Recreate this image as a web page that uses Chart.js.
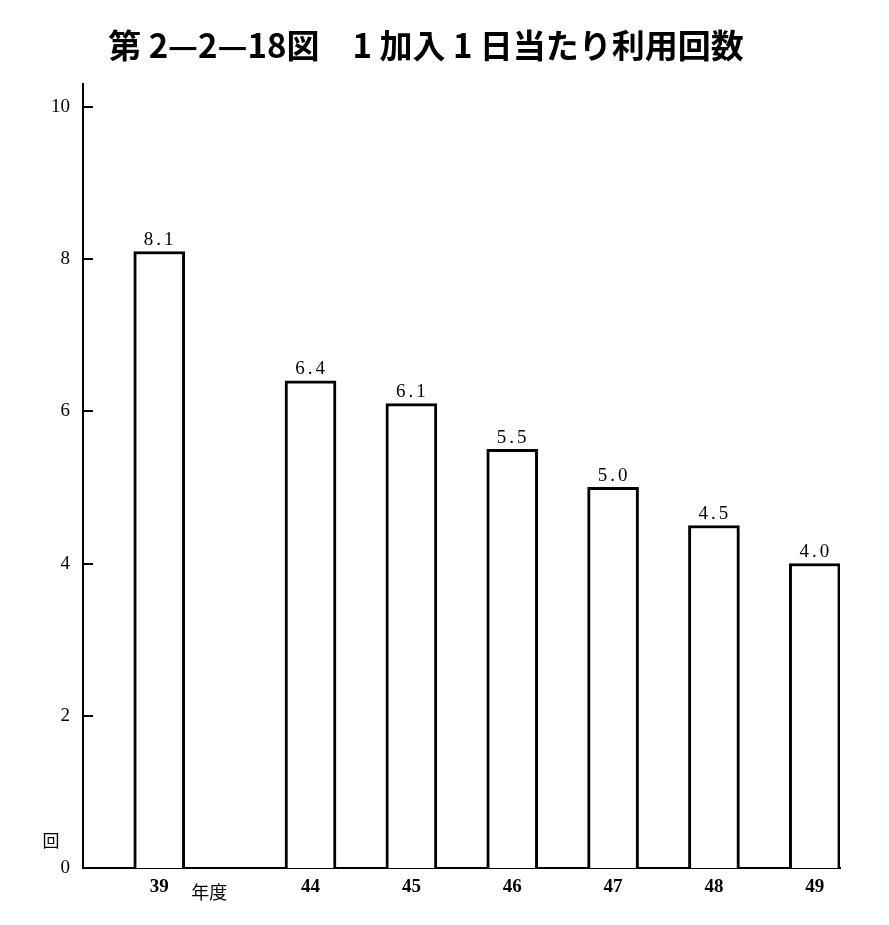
<!DOCTYPE html>
<html>
<head>
<meta charset="utf-8">
<script src="https://cdn.jsdelivr.net/npm/chart.js@4.4.1/dist/chart.umd.min.js"></script>
<style>
  html, body { margin: 0; padding: 0; background: #fff; }
  #wrap { width: 889px; height: 925px; }
</style>
</head>
<body>
<div id="wrap"><canvas id="chart" width="889" height="925"></canvas></div>
<script>
// 年度と1加入1日当たり利用回数
const years = ['39', '44', '45', '46', '47', '48', '49'];
const values = [8.1, 6.4, 6.1, 5.5, 5.0, 4.5, 4.0];
const yTicks = [0, 2, 4, 6, 8, 10];

const titleText = '第 2—2—18図　1 加入 1 日当たり利用回数';
const unitText = '回';
const yearText = '年度';

// 39年度と44年度の間は軸が飛んでいるので半スロット空ける
function slotOf(i) {
    return i === 0 ? 0 : i + 0.5;
}

const serif = '"Liberation Serif", "DejaVu Serif", serif';
const gothic = '"Noto Sans CJK JP", "Noto Sans", sans-serif';

const extras = {
    id: 'extras',
    afterDraw(chart) {
        const ctx = chart.ctx;
        const area = chart.chartArea;
        const xs = chart.scales.x;
        const ys = chart.scales.y;
        ctx.save();

        // タイトル
        ctx.fillStyle = '#000';
        ctx.font = 'bold 33px ' + gothic;
        ctx.textAlign = 'center';
        ctx.textBaseline = 'middle';
        ctx.fillText(titleText, 426, 45);

        // 内向きの目盛
        ctx.strokeStyle = '#000';
        ctx.lineWidth = 2;
        yTicks.forEach(v => {
            if (v === 0) return;
            const y = Math.round(ys.getPixelForValue(v));
            ctx.beginPath();
            ctx.moveTo(area.left, y);
            ctx.lineTo(area.left + 10, y);
            ctx.stroke();
        });

        // 棒の上の数値
        ctx.font = '19px ' + serif;
        ctx.textBaseline = 'bottom';
        ctx.letterSpacing = '3px';
        const meta = chart.getDatasetMeta(0);
        meta.data.forEach((bar, i) => {
            ctx.fillText(values[i].toFixed(1), bar.x + 1, bar.y - 2);
        });
        ctx.letterSpacing = '0px';

        // 単位と年度
        ctx.font = '17px ' + gothic;
        ctx.textBaseline = 'middle';
        ctx.fillText(unitText, area.left - 32, ys.getPixelForValue(0) - 27);
        ctx.font = '18px ' + gothic;
        ctx.fillText(yearText, xs.getPixelForValue(0) + 50, ys.getPixelForValue(0) + 24);

        ctx.restore();
    }
};

new Chart(document.getElementById('chart'), {
    type: 'bar',
    data: {
        datasets: [{
            data: years.map((y, i) => ({ x: slotOf(i), y: values[i] })),
            backgroundColor: '#fff',
            borderColor: '#000',
            borderWidth: 3,
            borderSkipped: 'bottom',
            barThickness: 51
        }]
    },
    options: {
        responsive: false,
        animation: false,
        layout: {
            padding: { top: 84, right: 49, left: 0, bottom: 0 }
        },
        plugins: {
            legend: { display: false },
            title: { display: false },
            tooltip: { enabled: false }
        },
        scales: {
            x: {
                type: 'linear',
                offset: false,
                min: -0.756,
                max: 6.75,
                grid: { display: false },
                border: { display: true, color: '#000', width: 2 },
                afterBuildTicks: scale => {
                    scale.ticks = years.map((y, i) => ({ value: slotOf(i) }));
                },
                afterFit: scale => { scale.height = 57; },
                ticks: {
                    autoSkip: false,
                    maxRotation: 0,
                    padding: 0,
                    color: '#000',
                    font: { family: serif, size: 19, weight: 'bold' },
                    callback: (v, idx) => years[idx]
                }
            },
            y: {
                min: 0,
                max: 10.3,
                grid: { display: false },
                border: { display: true, color: '#000', width: 2 },
                afterBuildTicks: scale => {
                    scale.ticks = yTicks.map(v => ({ value: v }));
                },
                afterFit: scale => { scale.width = 83; },
                ticks: {
                    padding: 5,
                    color: '#000',
                    font: { family: serif, size: 19 }
                }
            }
        }
    },
    plugins: [extras]
});
</script>
</body>
</html>
